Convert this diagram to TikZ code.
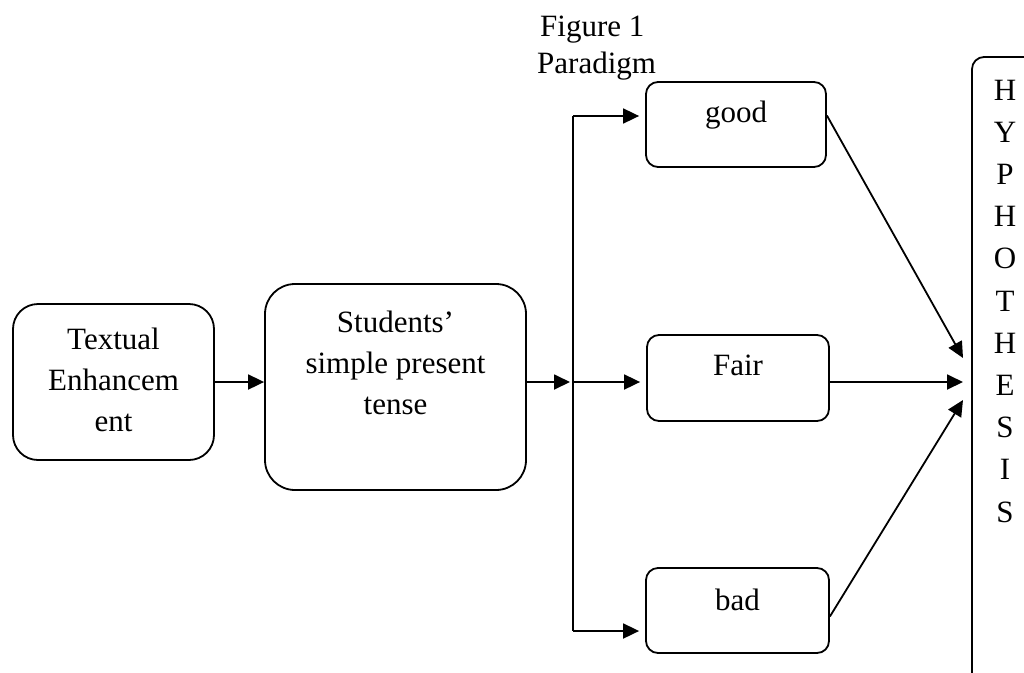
\documentclass[tikz,border=0pt]{standalone}
\usepackage{fontspec}
\setmainfont{Liberation Serif}
\usepackage{tikz}
\usetikzlibrary{arrows.meta}

\begin{document}
\begin{tikzpicture}[x=1pt,y=-1pt,
  box/.style={draw,line width=1.8pt,inner sep=0pt},
  txt/.style={font=\fontsize{31}{41}\selectfont,align=center,inner sep=0pt},
  arr/.style={line width=1.8pt,-{Triangle[length=16pt,width=15pt]}}]
\useasboundingbox (0,0) rectangle (1024,672);

% Define boxes
\node[box,rounded corners=25pt,minimum width=201pt,minimum height=156pt] (textual) at (113.5,382) {};
\node[box,rounded corners=30pt,minimum width=261pt,minimum height=206pt] (students) at (395.5,387) {};
\node[box,rounded corners=12pt,minimum width=180pt,minimum height=85pt] (good) at (736,124.5) {};
\node[box,rounded corners=12pt,minimum width=182pt,minimum height=86pt] (fair) at (738,378) {};
\node[box,rounded corners=12pt,minimum width=183pt,minimum height=85pt] (bad) at (737.5,610.5) {};
\node[box,rounded corners=12pt,minimum width=108pt,minimum height=663pt] (hyp) at (1026,388.5) {};

% Box texts
\node[txt,anchor=north] (textualtext) at ([yshift=-25pt]textual.north) {Textual\\Enhancem\\ent};
\node[txt,anchor=north] (studentstext) at ([yshift=-28pt]students.north) {Students’\\simple present\\tense};
\node[txt,anchor=north] (goodtext) at ([yshift=-20pt]good.north) {good};
\node[txt,anchor=north] (fairtext) at ([yshift=-21pt]fair.north) {Fair};
\node[txt,anchor=north] (badtext) at ([yshift=-22pt]bad.north) {bad};

% Vertical letters
\foreach \l [count=\i] in {H,Y,P,H,O,T,H,E,S,I,S} {
  \node[txt,anchor=base] (h\i) at (1005,{100+42.2*(\i-1)}) {\l};
}

% Title
\node[txt,anchor=base west] (fig) at (540,36) {Figure 1};
\node[txt,anchor=base west] (paradigm) at (537,73) {Paradigm};

% Branch points
\coordinate (split) at (573,382);
\coordinate (ttop) at (573,116);
\coordinate (tbot) at (573,631);
\coordinate (inA) at (963,358);
\coordinate (inB) at (963,382);
\coordinate (inC) at (963,400);

% Draw arrows
\draw[arr] (textual.east) -- (students.west |- textual.east);
\draw[arr,shorten >=3pt] (students.east |- split) -- (split);
\draw[line width=1.8pt] (ttop) -- (tbot);
\draw[arr,shorten >=6pt] (ttop) -- (ttop -| good.west);
\draw[arr,shorten >=6pt] (split) -- (split -| fair.west);
\draw[arr,shorten >=6pt] (tbot) -- (tbot -| bad.west);
\draw[arr] ([yshift=9pt]good.east) -- (inA);
\draw[arr] (fair.east |- inB) -- (inB);
\draw[arr] ([yshift=-6pt]bad.east) -- (inC);
\end{tikzpicture}
\end{document}
